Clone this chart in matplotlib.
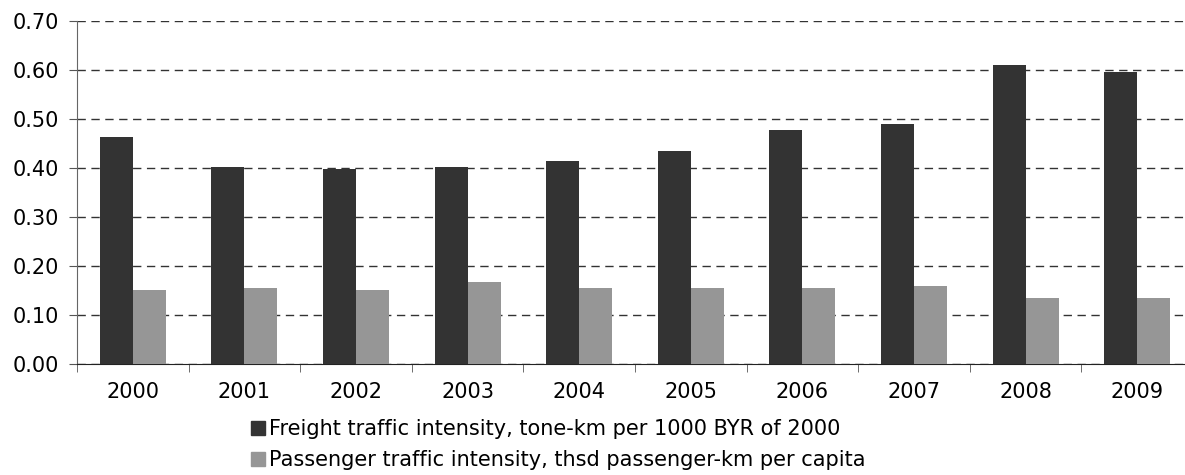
import numpy as np
import matplotlib
matplotlib.use("Agg")
import matplotlib.pyplot as plt
from matplotlib.patches import Patch

years = ["2000", "2001", "2002", "2003", "2004", "2005", "2006", "2007", "2008", "2009"]
freight = [0.463, 0.402, 0.398, 0.402, 0.414, 0.435, 0.478, 0.490, 0.611, 0.595]
passenger = [0.151, 0.155, 0.151, 0.167, 0.155, 0.155, 0.155, 0.159, 0.135, 0.135]
yticks = [0.0, 0.1, 0.2, 0.3, 0.4, 0.5, 0.6, 0.7]
labels = ["Freight traffic intensity, tone-km per 1000 BYR of 2000",
          "Passenger traffic intensity, thsd passenger-km per capita"]

dark = "#333333"
light = "#969696"
fs = 15

W, H = 1185, 475
fig = plt.figure(figsize=(W / 100, H / 100), dpi=100)
ax = fig.add_axes([77 / W, (H - 364) / H, 1116 / W, 343 / H])

x = np.arange(len(years))
bw = 0.295
ax.bar(x - bw / 2, freight, bw, color=dark, zorder=3)
ax.bar(x + bw / 2, passenger, bw, color=light, zorder=3)

ax.set_xlim(-0.5, len(years) - 0.5)
ax.set_ylim(0, 0.7)
ax.set_yticks(yticks)
ax.set_yticklabels(["%.2f" % v for v in yticks])
ax.yaxis.grid(True, color="#333333", linestyle=(0, (6, 4)), linewidth=1, zorder=0)

ax.set_xticks(x)
ax.set_xticklabels(years)
ax.set_xticks(np.arange(len(years) + 1) - 0.5, minor=True)
ax.tick_params(axis="x", which="major", length=0, pad=13, labelsize=fs)
ax.tick_params(axis="x", which="minor", length=6, color="#555555")
ax.tick_params(axis="y", length=6, color="#555555", labelsize=fs, pad=7)

for s in ["top", "right"]:
    ax.spines[s].set_visible(False)
ax.spines["left"].set_color("#666666")
ax.spines["bottom"].set_color("#222222")

handles = [Patch(color=dark), Patch(color=light)]
fig.legend(handles, labels, loc="upper left", bbox_to_anchor=(251 / W, 1 - 419 / H),
           frameon=False, fontsize=fs, handlelength=0.65, handleheight=0.65,
           handletextpad=0.2, labelspacing=0.55, borderaxespad=0, borderpad=0)

fig.savefig("out.png", dpi=100)
